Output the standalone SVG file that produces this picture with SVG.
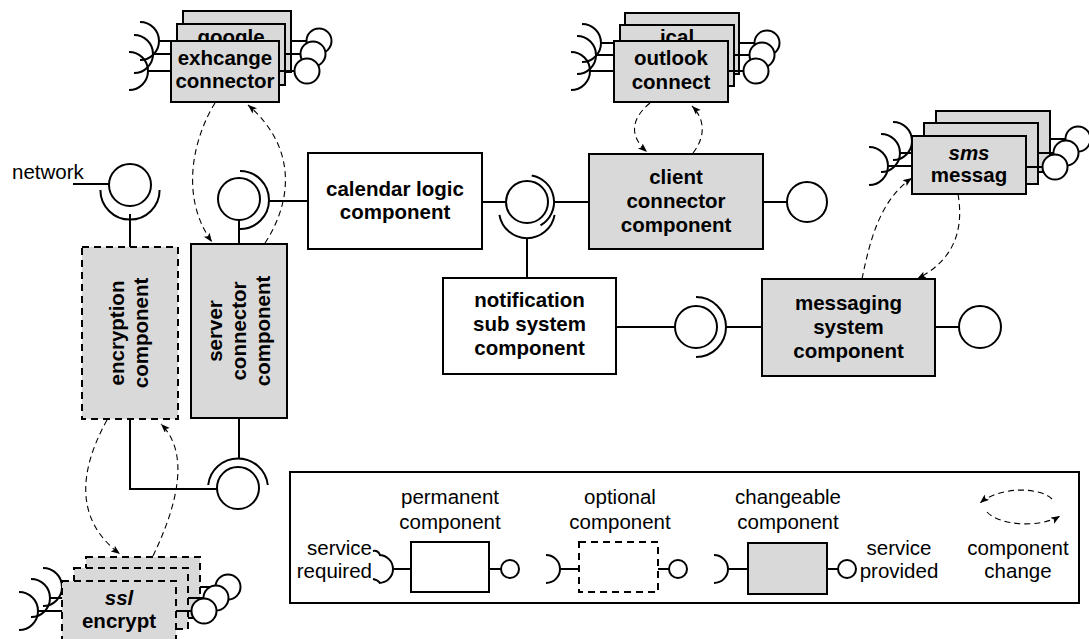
<svg xmlns="http://www.w3.org/2000/svg" width="1089" height="639" viewBox="0 0 1089 639">
<style>
.box{stroke:#000;stroke-width:2}
.perm{fill:#fff}
.chg{fill:#d9d9d9}
.opt{stroke-dasharray:7 5}
.ln{stroke:#000;stroke-width:2;fill:none}
.ball{fill:#fff;stroke:#000;stroke-width:2}
.ca{stroke:#000;stroke-width:1.1;fill:none;stroke-dasharray:6 4;marker-end:url(#ah)}
.t{font-family:"Liberation Sans",Arial,Helvetica,sans-serif;font-weight:bold;font-size:20.5px;text-anchor:middle;fill:#000}
.l{font-family:"Liberation Sans",Arial,Helvetica,sans-serif;font-size:20.5px;fill:#000}
.c{text-anchor:middle}
.e{text-anchor:end}
.i{font-style:italic}
</style>
<defs>
<marker id="ah" markerWidth="10" markerHeight="8" refX="9" refY="3.5" orient="auto" markerUnits="userSpaceOnUse"><path d="M0,0 L9,3.5 L0,7 L2,3.5 z" fill="#000"/></marker>
</defs>
<rect width="1089" height="639" fill="#fff"/>

<g id="connectors">
<line class="ln" x1="73" y1="184" x2="109" y2="184"/>
<path class="ln" d="M100.4,190 A29,29 0 0 0 159.6,190"/>
<line class="ln" x1="130" y1="214" x2="130" y2="247"/>
<circle class="ball" cx="130" cy="185" r="21"/>
<line class="ln" x1="239" y1="220" x2="239" y2="244"/>
<path class="ln" d="M240,171 A29,29 0 0 1 240,229"/>
<line class="ln" x1="269" y1="201" x2="308" y2="201"/>
<circle class="ball" cx="239" cy="199" r="21"/>
<line class="ln" x1="482" y1="202" x2="506" y2="202"/>
<line class="ln" x1="554" y1="202" x2="589" y2="202"/>
<path class="ln" d="M531.7,175.4 A27,27 0 0 1 540.5,225.4"/>
<path class="ln" d="M554.6,214.9 A28,28 0 0 1 499.4,214.9"/>
<line class="ln" x1="527" y1="238" x2="527" y2="278"/>
<circle class="ball" cx="527" cy="202" r="21"/>
<line class="ln" x1="763" y1="202" x2="787" y2="202"/>
<circle class="ball" cx="807" cy="202" r="20"/>
<line class="ln" x1="616" y1="327" x2="675" y2="327"/>
<path class="ln" d="M696,297 A30,30 0 0 1 696,357"/>
<line class="ln" x1="726" y1="327" x2="762" y2="327"/>
<circle class="ball" cx="696" cy="327" r="21"/>
<line class="ln" x1="935" y1="327" x2="959" y2="327"/>
<circle class="ball" cx="980" cy="327" r="21"/>
<polyline class="ln" points="130,419 130,489 217,489"/>
<line class="ln" x1="239" y1="418" x2="239" y2="458"/>
<path class="ln" d="M208.2,485 A30,30 0 0 1 267.8,485"/>
<circle class="ball" cx="238" cy="488" r="21"/>
<path class="ca" d="M215,103 C195,135 178,195 212,242"/>
<path class="ca" d="M265,243 C290,205 300,150 248,105"/>
<path class="ca" d="M650,103 C632,118 628,135 647,152"/>
<path class="ca" d="M693,153 C705,138 706,120 692,106"/>
<path class="ca" d="M862,279 C870,240 880,200 912,178"/>
<path class="ca" d="M958,194 C965,235 950,262 917,279"/>
<path class="ca" d="M107,420 C85,460 68,515 120,554"/>
<path class="ca" d="M153,556 C175,510 192,455 161,424"/>
</g>

<g id="exchange-stack">
<line class="ln" x1="159" y1="41" x2="183" y2="41"/>
<path class="ln" d="M140,22 A19,19 0 0 1 140,60"/>
<line class="ln" x1="291" y1="41" x2="307" y2="41"/>
<circle class="ball" cx="319" cy="41" r="12.5"/>
<rect class="box chg" x="183" y="11" width="108" height="61"/>
<line class="ln" x1="153" y1="54" x2="177" y2="54"/>
<path class="ln" d="M134,35 A19,19 0 0 1 134,73"/>
<line class="ln" x1="285" y1="54" x2="301" y2="54"/>
<circle class="ball" cx="313" cy="54" r="12.5"/>
<rect class="box chg" x="177" y="24" width="108" height="61"/>
<text class="t" x="231" y="44">google</text>
<line class="ln" x1="148" y1="71" x2="171" y2="71"/>
<path class="ln" d="M129,52 A19,19 0 0 1 129,90"/>
<line class="ln" x1="279" y1="71" x2="295" y2="71"/>
<circle class="ball" cx="307" cy="71" r="12.5"/>
<rect class="box chg" x="171" y="41" width="108" height="61"/>
<text class="t" x="225" y="65">exhcange</text>
<text class="t" x="225" y="88">connector</text>
</g>

<g id="outlook-stack">
<line class="ln" x1="601" y1="43" x2="625" y2="43"/>
<path class="ln" d="M582,24 A19,19 0 0 1 582,62"/>
<line class="ln" x1="739" y1="43" x2="755" y2="43"/>
<circle class="ball" cx="767" cy="43" r="12.5"/>
<rect class="box chg" x="625" y="13" width="114" height="61"/>
<line class="ln" x1="596" y1="55" x2="620" y2="55"/>
<path class="ln" d="M577,36 A19,19 0 0 1 577,74"/>
<line class="ln" x1="734" y1="55" x2="750" y2="55"/>
<circle class="ball" cx="762" cy="55" r="12.5"/>
<rect class="box chg" x="620" y="25" width="114" height="61"/>
<text class="t" x="677" y="44">ical</text>
<line class="ln" x1="590" y1="71" x2="614" y2="71"/>
<path class="ln" d="M571,52 A19,19 0 0 1 571,90"/>
<line class="ln" x1="728" y1="71" x2="744" y2="71"/>
<circle class="ball" cx="756" cy="71" r="12.5"/>
<rect class="box chg" x="614" y="41" width="114" height="61"/>
<text class="t" x="671" y="65">outlook</text>
<text class="t" x="671" y="89">connect</text>
</g>

<g id="sms-stack">
<line class="ln" x1="912" y1="141" x2="936" y2="141"/>
<path class="ln" d="M893,122 A19,19 0 0 1 893,160"/>
<line class="ln" x1="1050" y1="139" x2="1066" y2="139"/>
<circle class="ball" cx="1078" cy="139" r="12.5"/>
<rect class="box chg" x="936" y="111" width="114" height="61"/>
<line class="ln" x1="900" y1="153" x2="924" y2="153"/>
<path class="ln" d="M881,134 A19,19 0 0 1 881,172"/>
<line class="ln" x1="1038" y1="153" x2="1054" y2="153"/>
<circle class="ball" cx="1066" cy="153" r="12.5"/>
<rect class="box chg" x="924" y="123" width="114" height="61"/>
<line class="ln" x1="888" y1="166" x2="912" y2="166"/>
<path class="ln" d="M869,147 A19,19 0 0 1 869,185"/>
<line class="ln" x1="1026" y1="167" x2="1043" y2="167"/>
<circle class="ball" cx="1055" cy="167" r="12.5"/>
<rect class="box chg" x="912" y="136" width="114" height="58"/>
<text class="t i" x="969" y="160">sms</text>
<text class="t" x="969" y="182">messag</text>
</g>

<g id="ssl-stack">
<line class="ln" x1="62" y1="587" x2="86" y2="587"/>
<path class="ln" d="M43,568 A19,19 0 0 1 43,606"/>
<line class="ln" x1="200" y1="587" x2="216" y2="587"/>
<circle class="ball" cx="228" cy="587" r="12.5"/>
<rect class="box chg opt" x="86" y="557" width="114" height="61"/>
<line class="ln" x1="50" y1="598" x2="74" y2="598"/>
<path class="ln" d="M31,579 A19,19 0 0 1 31,617"/>
<line class="ln" x1="188" y1="598" x2="204" y2="598"/>
<circle class="ball" cx="216" cy="598" r="12.5"/>
<rect class="box chg opt" x="74" y="568" width="114" height="61"/>
<line class="ln" x1="38" y1="611" x2="62" y2="611"/>
<path class="ln" d="M19,592 A19,19 0 0 1 19,630"/>
<line class="ln" x1="176" y1="611" x2="192" y2="611"/>
<circle class="ball" cx="204" cy="611" r="12.5"/>
<rect class="box chg opt" x="62" y="581" width="114" height="61"/>
<text class="t i" x="119" y="605">ssl</text>
<text class="t" x="119" y="628">encrypt</text>
</g>

<g id="network-label">
<text class="l" x="12" y="179">network</text>
</g>

<g id="encryption">
<rect class="box chg opt" x="82" y="247" width="96" height="172"/>
<g transform="translate(130,333) rotate(-90)">
<text class="t" x="0" y="-6">encryption</text>
<text class="t" x="0" y="18">component</text>
</g>
</g>

<g id="server-connector">
<rect class="box chg" x="191" y="244" width="96" height="174"/>
<g transform="translate(239,331) rotate(-90)">
<text class="t" x="0" y="-17">server</text>
<text class="t" x="0" y="7">connector</text>
<text class="t" x="0" y="31">component</text>
</g>
</g>

<g id="calendar-logic">
<rect class="box perm" x="308" y="153" width="174" height="96"/>
<text class="t" x="395" y="196">calendar logic</text>
<text class="t" x="395" y="219">component</text>
</g>

<g id="client-connector">
<rect class="box chg" x="589" y="154" width="174" height="95"/>
<text class="t" x="676" y="184">client</text>
<text class="t" x="676" y="208">connector</text>
<text class="t" x="676" y="232">component</text>
</g>

<g id="notification">
<rect class="box perm" x="443" y="278" width="173" height="96"/>
<text class="t" x="529.5" y="307">notification</text>
<text class="t" x="529.5" y="331">sub system</text>
<text class="t" x="529.5" y="355">component</text>
</g>

<g id="messaging">
<rect class="box chg" x="762" y="279" width="173" height="97"/>
<text class="t" x="848.5" y="310">messaging</text>
<text class="t" x="848.5" y="334">system</text>
<text class="t" x="848.5" y="358">component</text>
</g>

<g id="legend">
<rect x="290" y="472" width="789" height="131" fill="none" stroke="#000" stroke-width="2"/>
<text class="l e" x="372" y="555">service</text>
<text class="l e" x="372" y="578">required</text>
<path class="ln" stroke-width="1.5" d="M373,551 Q378,550 380,555"/>
<path class="ln" stroke-width="1.5" d="M373,579 Q378,580 380,583"/>
<path class="ln" d="M379,555 A14,14 0 0 1 379,583"/>
<line class="ln" x1="393" y1="569" x2="411" y2="569"/>
<rect class="box perm" x="411" y="542" width="78" height="50"/>
<line class="ln" x1="489" y1="569" x2="501" y2="569"/>
<circle class="ball" cx="510" cy="569" r="9"/>
<text class="l c" x="450" y="504">permanent</text>
<text class="l c" x="450" y="529">component</text>

<path class="ln" d="M546,555 A14,14 0 0 1 546,583"/>
<line class="ln" x1="560" y1="569" x2="579" y2="569"/>
<rect class="box perm opt" x="579" y="542" width="79" height="50"/>
<line class="ln" x1="658" y1="569" x2="669" y2="569"/>
<circle class="ball" cx="678" cy="569" r="9"/>
<text class="l c" x="620" y="504">optional</text>
<text class="l c" x="620" y="529">component</text>

<path class="ln" d="M714,555 A14,14 0 0 1 714,583"/>
<line class="ln" x1="728" y1="569" x2="748" y2="569"/>
<rect class="box chg" x="748" y="543" width="79" height="51"/>
<line class="ln" x1="827" y1="569" x2="838" y2="569"/>
<circle class="ball" cx="847" cy="569" r="9"/>
<text class="l c" x="788" y="504">changeable</text>
<text class="l c" x="788" y="529">component</text>

<text class="l c" x="899" y="555">service</text>
<text class="l c" x="899" y="578">provided</text>

<path class="ca" d="M1052,499 C1040,487 1000,486 980,503"/>
<path class="ca" d="M987,512 C1000,526 1040,528 1060,516"/>
<text class="l c" x="1018" y="555">component</text>
<text class="l c" x="1018" y="578">change</text>
</g>
</svg>
